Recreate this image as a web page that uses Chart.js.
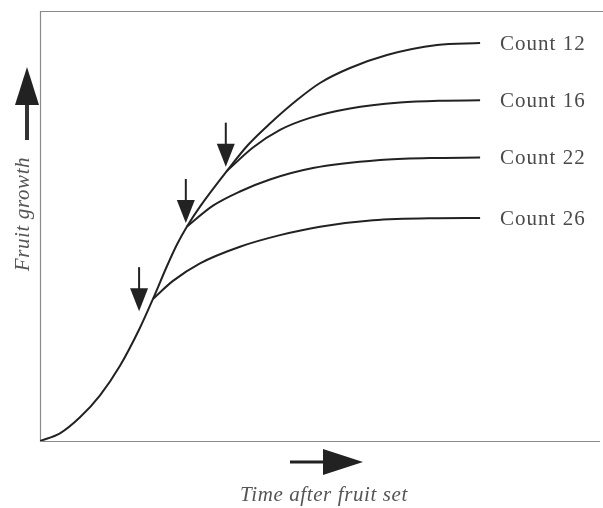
<!DOCTYPE html>
<html>
<head>
<meta charset="utf-8">
<script src="https://cdn.jsdelivr.net/npm/chart.js@4"></script>
<style>
  html, body { margin: 0; padding: 0; background: #fff; }
  #wrap { width: 603px; height: 508px; }
</style>
</head>
<body>
<div id="wrap"><canvas id="fruitChart" width="603" height="508"></canvas></div>
<script>
// Values (arbitrary units, 0-100 on both axes)
const count12X = [0, 3.55, 7.10, 10.66, 14.21, 17.76, 20.07, 22.56, 24.33, 26.11, 28.42, 33.21, 36.94, 40.85, 45.65, 49.73, 55.06, 61.63, 70.52, 78.17];
const count12Y = [0, 1.79, 5.51, 10.63, 17.49, 26.33, 33.05, 40.70, 45.70, 49.88, 54.49, 62.81, 68.84, 73.84, 79.30, 83.26, 86.74, 89.77, 92.09, 92.56];

const count16X = [33.21, 37.83, 42.63, 47.96, 55.06, 63.94, 71.05, 78.17];
const count16Y = [62.81, 68.26, 72.35, 75.14, 77.33, 78.72, 79.14, 79.23];

const count22X = [26.11, 30.73, 35.52, 40.85, 48.49, 60.39, 69.27, 78.17];
const count22Y = [49.88, 54.72, 58.02, 60.81, 63.47, 65.33, 65.79, 65.91];

const count26X = [20.07, 23.62, 28.42, 35.52, 42.63, 49.73, 59.15, 69.27, 78.17];
const count26Y = [33.05, 37.23, 41.33, 45.19, 47.88, 49.84, 51.33, 51.80, 51.86];

const seriesLabels = ['Count 12', 'Count 16', 'Count 22', 'Count 26'];

// where the thinning arrows point (tip positions)
const arrowX = [17.6, 25.9, 33.0];
const arrowY = [30.2, 50.7, 63.8];

const xTitle = 'Time after fruit set';
const yTitle = 'Fruit growth';

function toPoints(xs, ys) {
  return xs.map((x, i) => ({ x: x, y: ys[i] }));
}

const allX = [count12X, count16X, count22X, count26X];
const allY = [count12Y, count16Y, count22Y, count26Y];

const datasets = seriesLabels.map((label, i) => ({
  label: label,
  data: toPoints(allX[i], allY[i]),
  borderColor: '#222',
  borderWidth: 2,
  pointRadius: 0,
  fill: false,
  showLine: true,
  cubicInterpolationMode: 'monotone'
}));

function downArrow(ctx, x, tipY) {
  ctx.fillStyle = '#222';
  ctx.strokeStyle = '#222';
  ctx.lineWidth = 2;
  ctx.beginPath();
  ctx.moveTo(x, tipY - 44);
  ctx.lineTo(x, tipY - 20);
  ctx.stroke();
  ctx.beginPath();
  ctx.moveTo(x, tipY);
  ctx.lineTo(x - 9, tipY - 23);
  ctx.lineTo(x + 9, tipY - 23);
  ctx.closePath();
  ctx.fill();
}

const decorPlugin = {
  id: 'decor',
  beforeDatasetsDraw(chart) {
    const { ctx, chartArea } = chart;
    ctx.save();
    ctx.strokeStyle = '#8a8a8a';
    ctx.lineWidth = 1.2;
    ctx.beginPath();
    ctx.moveTo(chartArea.right, chartArea.top + 0.5);
    ctx.lineTo(chartArea.left + 0.5, chartArea.top + 0.5);
    ctx.lineTo(chartArea.left + 0.5, chartArea.bottom + 0.5);
    ctx.lineTo(chartArea.right - 3, chartArea.bottom + 0.5);
    ctx.stroke();
    ctx.restore();
  },
  afterDatasetsDraw(chart) {
    const { ctx } = chart;
    const xs = chart.scales.x;
    const ys = chart.scales.y;
    ctx.save();

    // series labels at the end of each curve
    ctx.fillStyle = '#4a4a4a';
    ctx.font = '21px "Liberation Serif", "DejaVu Serif", serif';
    ctx.letterSpacing = '1px';
    ctx.textAlign = 'left';
    ctx.textBaseline = 'middle';
    chart.data.datasets.forEach((ds) => {
      const last = ds.data[ds.data.length - 1];
      ctx.fillText(ds.label, xs.getPixelForValue(last.x) + 20, ys.getPixelForValue(last.y) + 1);
    });

    // thinning arrows
    arrowX.forEach((ax, i) => {
      downArrow(ctx, xs.getPixelForValue(ax), ys.getPixelForValue(arrowY[i]));
    });

    // y axis title with up arrow
    ctx.fillStyle = '#222';
    ctx.strokeStyle = '#333';
    ctx.lineWidth = 4;
    ctx.beginPath();
    ctx.moveTo(27, 140);
    ctx.lineTo(27, 102);
    ctx.stroke();
    ctx.beginPath();
    ctx.moveTo(27, 67);
    ctx.lineTo(15, 105);
    ctx.lineTo(39, 105);
    ctx.closePath();
    ctx.fill();

    ctx.fillStyle = '#555';
    ctx.font = 'italic 21px "Liberation Serif", "DejaVu Serif", serif';
    ctx.letterSpacing = '0.6px';
    ctx.textAlign = 'center';
    ctx.textBaseline = 'middle';
    ctx.translate(23, 214);
    ctx.rotate(-Math.PI / 2);
    ctx.fillText(yTitle, 0, 0);
    ctx.setTransform(1, 0, 0, 1, 0, 0);

    // x axis title with right arrow
    ctx.fillStyle = '#222';
    ctx.strokeStyle = '#222';
    ctx.lineWidth = 3;
    ctx.beginPath();
    ctx.moveTo(290, 462);
    ctx.lineTo(326, 462);
    ctx.stroke();
    ctx.beginPath();
    ctx.moveTo(363, 462);
    ctx.lineTo(323, 449);
    ctx.lineTo(323, 475);
    ctx.closePath();
    ctx.fill();

    ctx.fillStyle = '#555';
    ctx.font = 'italic 21px "Liberation Serif", "DejaVu Serif", serif';
    ctx.textAlign = 'center';
    ctx.textBaseline = 'alphabetic';
    ctx.fillText(xTitle, 324, 501);

    ctx.restore();
  }
};

new Chart(document.getElementById('fruitChart').getContext('2d'), {
  type: 'scatter',
  data: { datasets: datasets },
  options: {
    responsive: false,
    animation: false,
    layout: { padding: { left: 40, top: 11, right: 0, bottom: 67 } },
    plugins: {
      legend: { display: false },
      tooltip: { enabled: false }
    },
    scales: {
      x: { type: 'linear', min: 0, max: 100, display: false },
      y: { type: 'linear', min: 0, max: 100, display: false }
    }
  },
  plugins: [decorPlugin]
});
</script>
</body>
</html>
